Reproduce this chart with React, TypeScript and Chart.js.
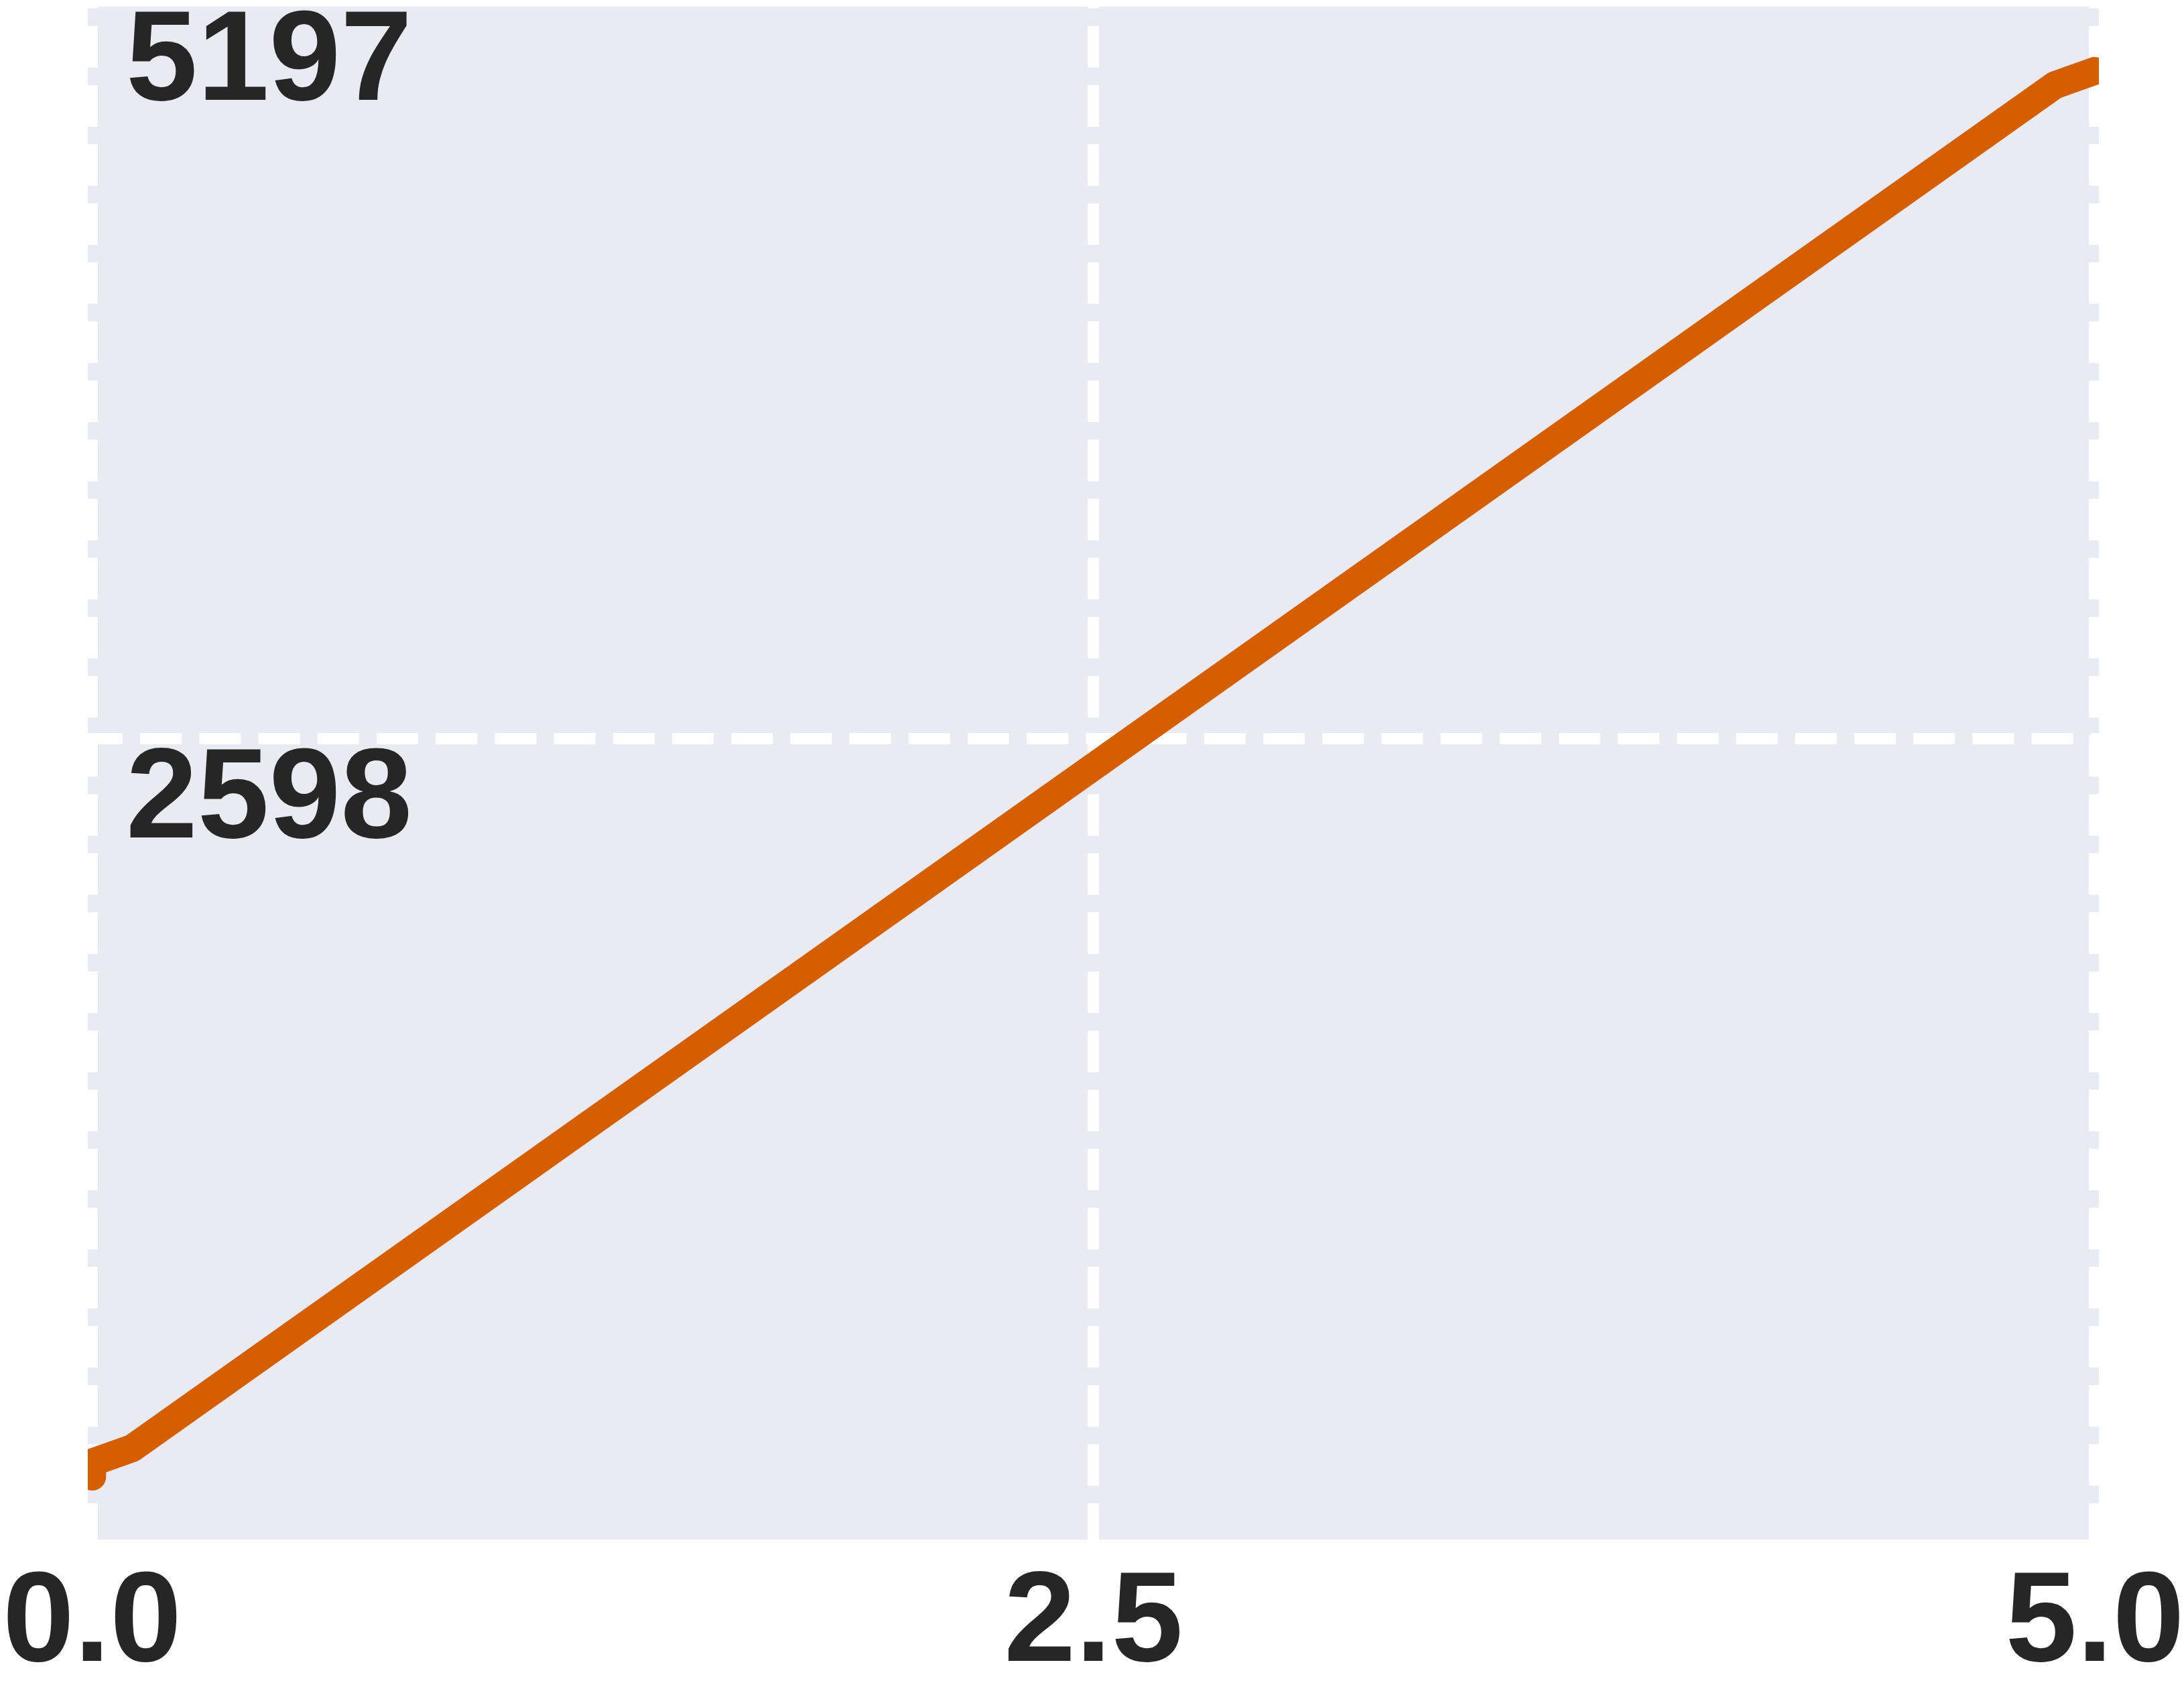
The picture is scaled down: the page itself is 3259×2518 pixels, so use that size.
import React, { useEffect, useRef } from "react";
import { Chart, registerables } from "chart.js";

Chart.register(...registerables);

// ---- data ----
const xValues = [0, 0, 0.1, 4.9, 5.0];
const yValues = [0, 50, 100, 4900, 4950];

const xTickValues = [0, 2.5, 5];
const xTickLabels = ["0.0", "2.5", "5.0"];
const yTickValues = [2598.75, 5197.5];
const yTickLabels = ["2598", "5197"];

const xMin = -0.010875;
const xMax = 5.010039;
const yMin = -221.78;
const yMax = 5197.5;

const W = 3259;
const H = 2518;

const LINE_COLOR = "#D55E00";
const BG_COLOR = "#EAEAF2";
const TEXT_COLOR = "#262626";
const FONT_FAMILY = "'Liberation Sans', Arial, sans-serif";
const FONT_SIZE = 192;

const bgPlugin = {
  id: "plotBackground",
  beforeDraw(chart: any) {
    const { ctx, chartArea: a } = chart;
    ctx.save();
    ctx.fillStyle = BG_COLOR;
    ctx.fillRect(a.left, a.top + 9, a.right - a.left, a.bottom - a.top - 9);
    ctx.restore();
  },
};

export default function App() {
  const ref = useRef<HTMLCanvasElement | null>(null);

  useEffect(() => {
    if (!ref.current) return;
    const data = xValues.map((x, i) => ({ x, y: yValues[i] }));
    const chart = new Chart(ref.current, {
      type: "line",
      data: {
        datasets: [
          {
            data,
            borderColor: LINE_COLOR,
            backgroundColor: LINE_COLOR,
            borderWidth: 41.6,
            borderCapStyle: "round",
            borderJoinStyle: "round",
            pointRadius: 0,
            pointHoverRadius: 0,
            tension: 0,
            fill: false,
            clip: 0,
          } as any,
        ],
      },
      options: {
        animation: false,
        responsive: false,
        devicePixelRatio: 1,
        events: [],
        layout: { padding: { left: 131, top: 1, right: 127, bottom: 0 } },
        plugins: {
          legend: { display: false },
          tooltip: { enabled: false },
        },
        scales: {
          x: {
            type: "linear",
            position: "bottom",
            min: xMin,
            max: xMax,
            afterBuildTicks: (scale: any) => {
              scale.ticks = xTickValues.map((v) => ({ value: v }));
            },
            afterFit: (scale: any) => {
              scale.height = 220;
              scale.paddingLeft = 0;
              scale.paddingRight = 0;
            },
            grid: { color: "#FFFFFF", lineWidth: 17, drawTicks: false },
            border: { display: false, dash: [62, 26.2], dashOffset: 50.4 },
            ticks: {
              autoSkip: false,
              maxRotation: 0,
              minRotation: 0,
              padding: 13,
              color: TEXT_COLOR,
              font: { family: FONT_FAMILY, weight: "bold", size: FONT_SIZE },
              callback: (_v: any, i: number) => xTickLabels[i],
            },
          },
          y: {
            type: "linear",
            position: "left",
            min: yMin,
            max: yMax,
            afterBuildTicks: (scale: any) => {
              scale.ticks = yTickValues.map((v) => ({ value: v }));
            },
            afterFit: (scale: any) => {
              scale.width = 0;
              scale.paddingTop = 0;
              scale.paddingBottom = 0;
            },
            grid: { color: "#FFFFFF", lineWidth: 17, drawTicks: false },
            border: { display: false, dash: [62, 26.2], dashOffset: 10 },
            ticks: {
              mirror: true,
              padding: 57,
              labelOffset: 95,
              autoSkip: false,
              color: TEXT_COLOR,
              font: { family: FONT_FAMILY, weight: "bold", size: FONT_SIZE },
              callback: (_v: any, i: number) => yTickLabels[i],
            },
          },
        },
      } as any,
      plugins: [bgPlugin],
    });
    return () => chart.destroy();
  }, []);

  return (
    <div
      style={{
        position: "fixed",
        left: 0,
        top: 0,
        width: W,
        height: H,
        background: "#FFFFFF",
      }}
    >
      <canvas ref={ref} width={W} height={H} style={{ display: "block", width: W, height: H }} />
    </div>
  );
}
